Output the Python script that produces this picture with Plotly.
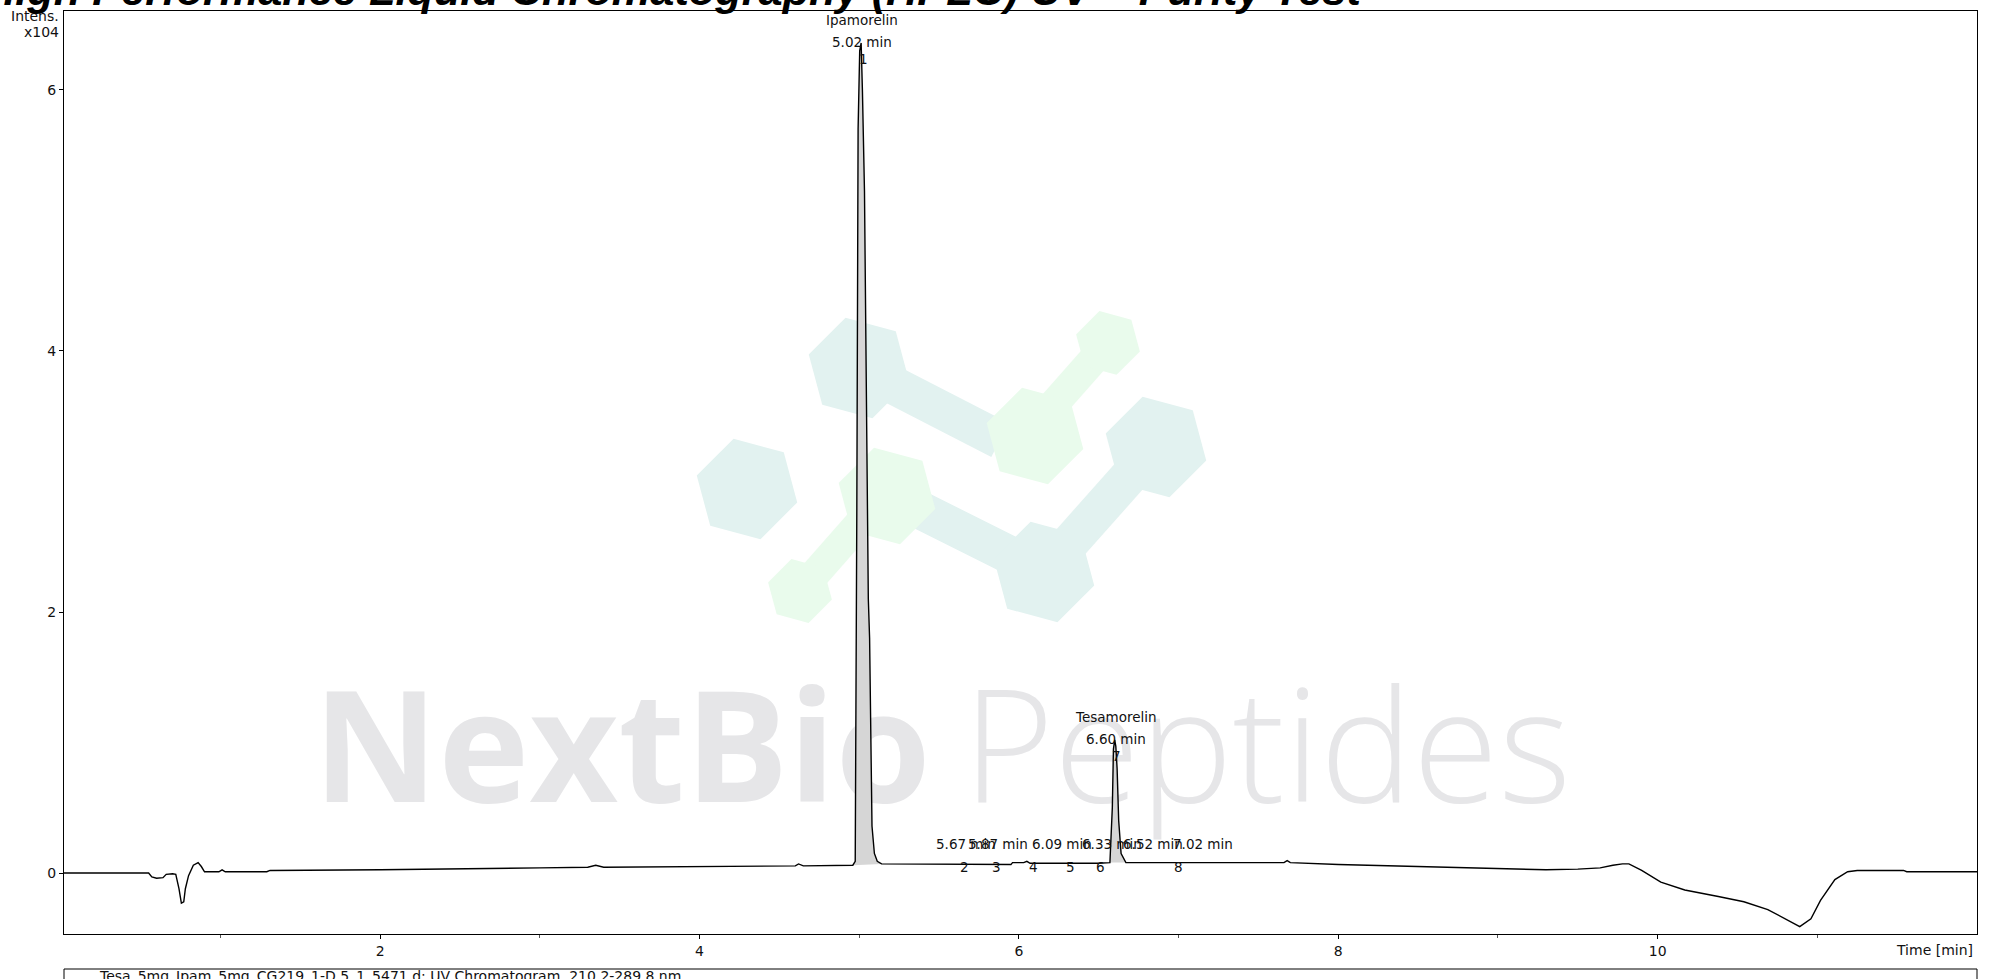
import math
import plotly.graph_objects as go

# ---------------- data ----------------
time_min = [0.02, 0.55, 0.57, 0.60, 0.64, 0.66, 0.70, 0.72, 0.74, 0.755, 0.77, 0.78, 0.80, 0.83,
            0.86, 0.88, 0.90, 0.99, 1.01, 1.03, 1.29, 1.31, 2.0, 2.5, 3.0, 3.30, 3.35, 3.40,
            4.0, 4.60, 4.62, 4.65, 4.96, 4.975, 4.985, 4.993, 5.003, 5.012, 5.02, 5.033,
            5.05, 5.057, 5.065, 5.08, 5.095, 5.113, 5.14, 5.6, 5.66, 5.70, 5.95, 5.96, 6.03,
            6.05, 6.07, 6.5, 6.57, 6.585, 6.592, 6.600, 6.607, 6.615, 6.625, 6.64, 6.67,
            7.0, 7.3, 7.66, 7.68, 7.70, 8.0, 8.5, 8.8, 9.0, 9.3, 9.5, 9.64, 9.72, 9.78,
            9.82, 9.90, 10.02, 10.17, 10.38, 10.54, 10.69, 10.81, 10.89, 10.96, 11.02,
            11.11, 11.19, 11.25, 11.54, 11.56, 12.0]
intensity_e4 = [0.0, 0.0, -0.03, -0.04, -0.035, -0.01, -0.005, -0.01, -0.12, -0.23, -0.22, -0.12,
                -0.02, 0.06, 0.08, 0.05, 0.01, 0.01, 0.025, 0.01, 0.01, 0.02, 0.025, 0.03, 0.04,
                0.045, 0.06, 0.045, 0.05, 0.055, 0.07, 0.055, 0.06, 0.09, 2.8, 5.7, 6.30, 6.36,
                6.0, 5.22, 3.0, 2.1, 1.8, 0.36, 0.15, 0.09, 0.07, 0.065, 0.07, 0.065, 0.065,
                0.08, 0.08, 0.09, 0.075, 0.075, 0.08, 0.5, 0.95, 1.02, 0.97, 0.8, 0.4, 0.15,
                0.08, 0.08, 0.08, 0.08, 0.095, 0.08, 0.065, 0.05, 0.04, 0.03, 0.025, 0.03,
                0.04, 0.06, 0.07, 0.07, 0.02, -0.07, -0.13, -0.18, -0.22, -0.28, -0.36, -0.41,
                -0.35, -0.21, -0.05, 0.01, 0.02, 0.02, 0.01, 0.01]

# named peaks
named_peaks = ["Ipamorelin", "Tesamorelin"]
named_rt = ["5.02 min", "6.60 min"]
named_x = [5.02, 6.61]
named_apex = [6.36, 1.02]
named_num = ["1", "7"]
named_num_x = [5.025, 6.61]

# integration windows (start, end) for the filled peaks
integ_windows = [(4.96, 5.14), (6.57, 6.67)]

# small peaks: retention time labels and peak numbers
small_labels = ["5.67 min", "5.87 min", "6.09 min", "6.33 min", "6.52 min", "7.02 min"]
small_label_x = [5.67, 5.87, 6.27, 6.58, 6.84, 7.15]
small_nums = ["2", "3", "4", "5", "6", "8"]
small_num_x = [5.66, 5.86, 6.09, 6.32, 6.51, 7.00]
small_base = 0.07

x_ticks = [2, 4, 6, 8, 10]
x_minor = [1, 3, 5, 7, 9, 11]
y_ticks = [0, 2, 4, 6]
X_RANGE = [0.02, 12.0]
Y_RANGE = [-0.467, 6.605]

TITLE = "High Performance Liquid Chromatography (HPLC) UV \u2013 Purity Test"
FOOTER = "Tesa_5mg_Ipam_5mg_CG219_1-D.5_1_5471.d: UV Chromatogram, 210.2-289.8 nm"

# ---------------- layout geometry ----------------
W, H = 1992, 979
L, R, T, B = 64, 1977, 11, 934
PW, PH = R - L, B - T


def pp(px, py):
    return (px - L) / PW, (B - py) / PH


def data_from_px(px, py):
    X, Y = pp(px, py)
    return (X_RANGE[0] + X * (X_RANGE[1] - X_RANGE[0]),
            Y_RANGE[0] + Y * (Y_RANGE[1] - Y_RANGE[0]))


def poly_path(pts):
    s = ""
    for i, (px, py) in enumerate(pts):
        X, Y = pp(px, py)
        s += ("M" if i == 0 else "L") + f"{X:.5f},{Y:.5f} "
    return s + "Z"


def hexagon(cx, cy, r, rot=15):
    return [(cx + r * math.cos(math.radians(rot + 60 * k)),
             cy + r * math.sin(math.radians(rot + 60 * k))) for k in range(6)]


def bar(x0, y0, x1, y1, w):
    dx, dy = x1 - x0, y1 - y0
    n = math.hypot(dx, dy)
    ox, oy = -dy / n * w / 2, dx / n * w / 2
    return [(x0 + ox, y0 + oy), (x1 + ox, y1 + oy), (x1 - ox, y1 - oy), (x0 - ox, y0 - oy)]


TEAL = "#e2f2f0"
GREEN = "#e9fbec"

logo = [
    (bar(860, 368, 1000, 440, 38), TEAL),
    (bar(900, 500, 1040, 570, 38), TEAL),
    (bar(1044, 572, 1155, 447, 38), TEAL),
    (bar(800, 591, 880, 500, 30), GREEN),
    (bar(1040, 420, 1108, 343, 30), GREEN),
    (hexagon(747, 489, 52), TEAL),
    (hexagon(859, 368, 52), TEAL),
    (hexagon(1156, 447, 52), TEAL),
    (hexagon(1044, 572, 52), TEAL),
    (hexagon(887, 496, 50), GREEN),
    (hexagon(1035, 436, 50), GREEN),
    (hexagon(800, 591, 33), GREEN),
    (hexagon(1108, 343, 33), GREEN),
]

shapes = [dict(type="path", path=poly_path(p), xref="paper", yref="paper",
               fillcolor=c, line=dict(width=0), layer="below") for p, c in logo]

# footer box
shapes.append(dict(type="rect", xref="paper", yref="paper", x0=0, x1=1,
                   y0=pp(0, 969)[1], y1=pp(0, 1000)[1], line=dict(color="black", width=1),
                   fillcolor="rgba(0,0,0,0)"))

fig = go.Figure()

# watermark text (drawn first so the chromatogram lies on top)
wx1, wy = data_from_px(622, 763)
wx2, _ = data_from_px(1267, 763)
fig.add_trace(go.Scatter(x=[wx1], y=[wy], mode="text", text=["NextBio"], hoverinfo="skip",
                         textposition="middle center",
                         textfont=dict(family="Open Sans", size=154, color="#e6e6e8", weight=700),
                         showlegend=False, cliponaxis=False))
fig.add_trace(go.Scatter(x=[wx2], y=[wy], mode="text", text=["Peptides"], hoverinfo="skip",
                         textposition="middle center",
                         textfont=dict(family="Open Sans", size=156, color="#e6e6e8", weight=300),
                         showlegend=False, cliponaxis=False))

# integrated peak areas
for (a, b) in integ_windows:
    seg = [(t, v) for t, v in zip(time_min, intensity_e4) if a <= t <= b]
    fig.add_trace(go.Scatter(x=[seg[0][0], seg[-1][0]], y=[seg[0][1], seg[-1][1]],
                             mode="lines", line=dict(width=0, color="rgba(0,0,0,0)"),
                             showlegend=False, hoverinfo="skip"))
    fig.add_trace(go.Scatter(x=[s[0] for s in seg], y=[s[1] for s in seg], mode="lines",
                             line=dict(width=0, color="rgba(0,0,0,0)"), fill="tonexty",
                             fillcolor="#d6d6d6", showlegend=False, hoverinfo="skip"))

# chromatogram
fig.add_trace(go.Scatter(x=time_min, y=intensity_e4, mode="lines",
                         line=dict(color="black", width=1.4), showlegend=False))

LBL = dict(family="DejaVu Sans", size=13.5, color="#111111")
ann = []
for name, rt, x, ap, num, nx in zip(named_peaks, named_rt, named_x, named_apex, named_num, named_num_x):
    ann.append(dict(x=x, y=ap, xref="x", yref="y", text=rt, showarrow=False, font=LBL,
                    yanchor="middle", yshift=1))
    ann.append(dict(x=x, y=ap, xref="x", yref="y", text=name, showarrow=False, font=LBL,
                    yanchor="middle", yshift=23))
    ann.append(dict(x=nx, y=ap, xref="x", yref="y", text=num, showarrow=False, font=LBL,
                    yanchor="top", yshift=-6))
for lab, x in zip(small_labels, small_label_x):
    ann.append(dict(x=x, y=small_base, xref="x", yref="y", text=lab, showarrow=False, font=LBL,
                    yanchor="middle", yshift=20))
for num, x in zip(small_nums, small_num_x):
    ann.append(dict(x=x, y=small_base, xref="x", yref="y", text=num, showarrow=False, font=LBL,
                    yanchor="top", yshift=7))

AX = dict(family="DejaVu Sans", size=14, color="#111111")
ann.append(dict(x=pp(61, 0)[0], y=pp(0, 16.5)[1], xref="paper", yref="paper", xanchor="right",
                yanchor="middle", text="Intens.", showarrow=False, font=AX))
ann.append(dict(x=pp(61, 0)[0], y=pp(0, 32)[1], xref="paper", yref="paper", xanchor="right",
                yanchor="middle", text="x104", showarrow=False, font=AX))
ann.append(dict(x=pp(1975, 0)[0], y=pp(0, 940)[1], xref="paper", yref="paper", xanchor="right",
                yanchor="top", text="Time [min]", showarrow=False, font=AX))
ann.append(dict(x=pp(97, 0)[0], y=pp(0, 966)[1], xref="paper", yref="paper", xanchor="left",
                yanchor="top", text=FOOTER, showarrow=False, font=AX))
ann.append(dict(x=pp(-18, 0)[0], y=pp(0, 16)[1], xref="paper", yref="paper", xanchor="left",
                yanchor="bottom", text="<b><i>" + TITLE + "</i></b>", showarrow=False,
                font=dict(family="Liberation Sans", size=43.3, color="black")))

fig.update_layout(
    width=W, height=H, autosize=False,
    margin=dict(l=L, r=W - R, t=T, b=H - B, pad=0),
    paper_bgcolor="white", plot_bgcolor="white",
    shapes=shapes, annotations=ann, showlegend=False,
    xaxis=dict(range=X_RANGE, tickvals=x_ticks, ticks="outside", ticklen=4, tickcolor="black",
               showgrid=False, zeroline=False, showline=True, mirror=True, linecolor="black",
               linewidth=1, tickfont=AX,
               minor=dict(tickvals=x_minor, ticks="outside", ticklen=3, tickcolor="#555555")),
    yaxis=dict(range=Y_RANGE, tickvals=y_ticks, ticks="outside", ticklen=4, tickcolor="black",
               showgrid=False, zeroline=False, showline=True, mirror=True, linecolor="black",
               linewidth=1, tickfont=AX),
)

fig.write_html("out.html", config={"displayModeBar": False},
               post_script="document.body.style.margin='0';document.body.style.overflow='hidden';")
